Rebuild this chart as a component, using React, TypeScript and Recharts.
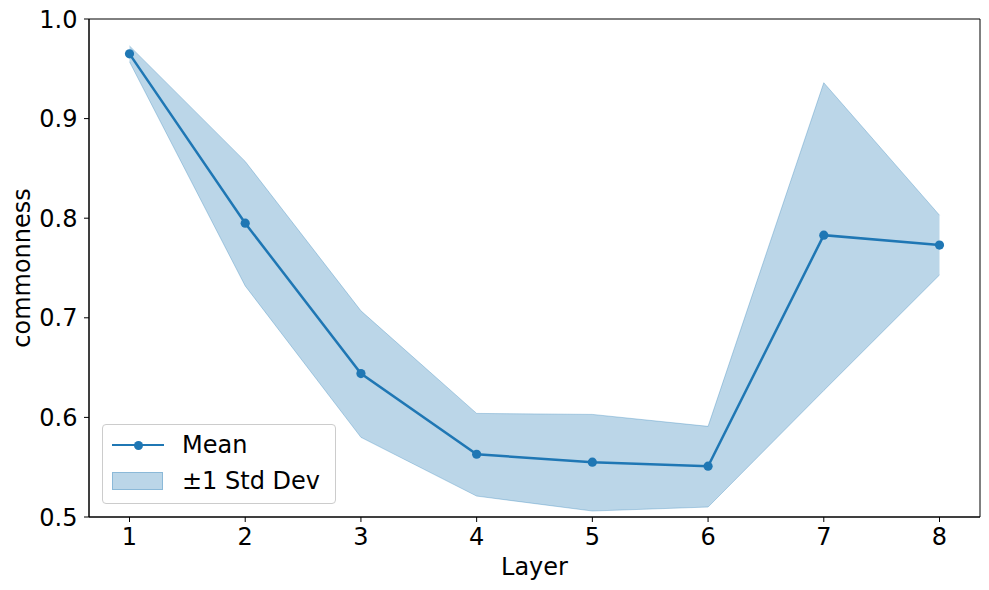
import {
  ComposedChart,
  Area,
  Line,
  XAxis,
  YAxis,
  ReferenceArea,
} from 'recharts'

const layers = [1, 2, 3, 4, 5, 6, 7, 8]
const meanVals = [0.965, 0.795, 0.644, 0.563, 0.555, 0.551, 0.783, 0.773]
const upperVals = [0.973, 0.857, 0.707, 0.604, 0.603, 0.591, 0.936, 0.803]
const lowerVals = [0.957, 0.732, 0.58, 0.521, 0.506, 0.51, 0.627, 0.743]
const yTicks = [0.5, 0.6, 0.7, 0.8, 0.9, 1.0]

const BLUE = '#1f77b4'
const FONT = '"DejaVu Sans", sans-serif'
const FS = 24

const data = layers.map((layer, i) => ({
  layer,
  mean: meanVals[i],
  band: [lowerVals[i], upperVals[i]],
}))

function LegendBox() {
  return (
    <div
      style={{
        position: 'absolute',
        left: 102,
        top: 424,
        width: 234,
        height: 80,
        boxSizing: 'border-box',
        border: '1px solid #cccccc',
        borderRadius: 4,
        background: 'rgba(255,255,255,0.8)',
        fontFamily: FONT,
        fontSize: FS,
        color: '#000',
      }}
    >
      <div style={{ position: 'absolute', left: 9, top: 19, width: 52, height: 2.3, background: BLUE }} />
      <div
        style={{
          position: 'absolute',
          left: 31,
          top: 15.5,
          width: 9,
          height: 9,
          borderRadius: '50%',
          background: BLUE,
        }}
      />
      <span style={{ position: 'absolute', left: 79, top: 8, lineHeight: '24px', whiteSpace: 'nowrap' }}>Mean</span>
      <div
        style={{
          position: 'absolute',
          left: 9,
          top: 47,
          width: 51,
          height: 18,
          boxSizing: 'border-box',
          background: 'rgba(31,119,180,0.3)',
          border: '1px solid rgba(31,119,180,0.3)',
        }}
      />
      <span style={{ position: 'absolute', left: 79, top: 44, lineHeight: '24px', whiteSpace: 'nowrap' }}>±1 Std Dev</span>
    </div>
  )
}

export default function App() {
  return (
    <div style={{ position: 'absolute', left: 0, top: 0, width: 989, height: 590, background: '#fff' }}>
      <ComposedChart
        width={989}
        height={590}
        data={data}
        margin={{ top: 19, right: 9, left: 0, bottom: 0 }}
      >
        <XAxis
          dataKey="layer"
          type="number"
          domain={[0.65, 8.35]}
          ticks={layers}
          allowDataOverflow
          height={73}
          axisLine={{ stroke: '#000', strokeWidth: 1 }}
          tickLine={{ stroke: '#000', strokeWidth: 1 }}
          tickSize={5}
          tickMargin={6}
          tick={{ fontSize: FS, fill: '#000', fontFamily: FONT }}
          label={{
            value: 'Layer',
            position: 'insideBottom',
            offset: 15,
            style: { fontSize: FS, fill: '#000', fontFamily: FONT },
          }}
        />
        <YAxis
          type="number"
          domain={[0.5, 1.0]}
          ticks={yTicks}
          allowDataOverflow
          width={89}
          axisLine={{ stroke: '#000', strokeWidth: 1 }}
          tickLine={{ stroke: '#000', strokeWidth: 1 }}
          tickSize={5}
          tickMargin={6.5}
          tickFormatter={(v: number) => v.toFixed(1)}
          tick={{ fontSize: FS, fill: '#000', fontFamily: FONT }}
          label={{
            value: 'commonness',
            angle: -90,
            position: 'insideLeft',
            offset: 21,
            style: { fontSize: FS, fill: '#000', fontFamily: FONT, textAnchor: 'middle' },
          }}
        />
        <ReferenceArea
          x1={0.65}
          x2={8.35}
          y1={0.5}
          y2={1.0}
          fill="none"
          stroke="#000"
          strokeWidth={1}
          ifOverflow="visible"
        />
        <Area
          dataKey="band"
          type="linear"
          fill={BLUE}
          fillOpacity={0.3}
          stroke={BLUE}
          strokeOpacity={0.3}
          strokeWidth={1}
          isAnimationActive={false}
          activeDot={false}
        />
        <Line
          dataKey="mean"
          type="linear"
          stroke={BLUE}
          strokeWidth={2.5}
          dot={{ r: 4.6, fill: BLUE, stroke: BLUE, strokeWidth: 0 }}
          activeDot={false}
          isAnimationActive={false}
        />
      </ComposedChart>
      <LegendBox />
    </div>
  )
}
